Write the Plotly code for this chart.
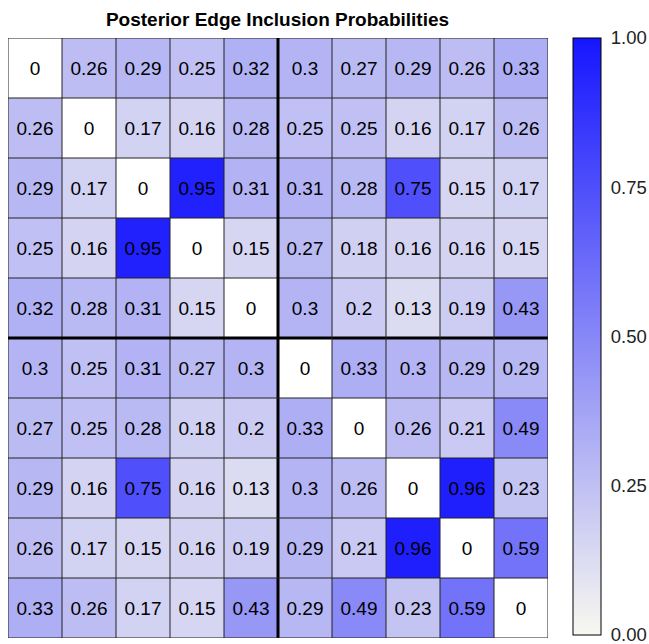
import plotly.graph_objects as go

labels = [str(i) for i in range(1, 11)]
values = [
    [0, 0.26, 0.29, 0.25, 0.32, 0.3, 0.27, 0.29, 0.26, 0.33],
    [0.26, 0, 0.17, 0.16, 0.28, 0.25, 0.25, 0.16, 0.17, 0.26],
    [0.29, 0.17, 0, 0.95, 0.31, 0.31, 0.28, 0.75, 0.15, 0.17],
    [0.25, 0.16, 0.95, 0, 0.15, 0.27, 0.18, 0.16, 0.16, 0.15],
    [0.32, 0.28, 0.31, 0.15, 0, 0.3, 0.2, 0.13, 0.19, 0.43],
    [0.3, 0.25, 0.31, 0.27, 0.3, 0, 0.33, 0.3, 0.29, 0.29],
    [0.27, 0.25, 0.28, 0.18, 0.2, 0.33, 0, 0.26, 0.21, 0.49],
    [0.29, 0.16, 0.75, 0.16, 0.13, 0.3, 0.26, 0, 0.96, 0.23],
    [0.26, 0.17, 0.15, 0.16, 0.19, 0.29, 0.21, 0.96, 0, 0.59],
    [0.33, 0.26, 0.17, 0.15, 0.43, 0.29, 0.49, 0.23, 0.59, 0],
]
cbar_ticks = [0, 0.25, 0.5, 0.75, 1.0]
cbar_ticktext = ["0.00", "0.25", "0.50", "0.75", "1.00"]
split = 5

n = len(labels)
text = [[("%g" % v) for v in row] for row in values]

fig = go.Figure(go.Heatmap(
    z=values,
    x=list(range(n)),
    y=list(range(n)),
    text=text,
    texttemplate="%{text}",
    textfont=dict(family="Liberation Sans, Arial", size=19, color="black"),
    zmin=0, zmax=1,
    colorscale=[[0, "#ffffff"], [0.001, "#f8f8f0"], [1, "#1616ff"]],
    hoverinfo="skip",
    colorbar=dict(
        x=1.046, xanchor="left", xpad=0, y=0.5025, yanchor="middle", len=0.995, ypad=0,
        thickness=28, outlinewidth=1, outlinecolor="black",
        tickvals=cbar_ticks, ticktext=[" " + t for t in cbar_ticktext], ticks="",
        ticklabeloverflow="allow",
        tickfont=dict(family="Liberation Sans, Arial", size=18.5, color="#222"),
    ),
))

shapes = []
for i in range(n + 1):
    w = 3 if i == split else 1
    c = "black" if i == split else "#222"
    shapes.append(dict(type="line", xref="x", yref="y", x0=i - 0.5, x1=i - 0.5,
                       y0=-0.5, y1=n - 0.5, line=dict(color=c, width=w)))
    shapes.append(dict(type="line", xref="x", yref="y", y0=i - 0.5, y1=i - 0.5,
                       x0=-0.5, x1=n - 0.5, line=dict(color=c, width=w)))

fig.update_layout(
    width=649, height=644,
    margin=dict(l=8, r=101, t=38, b=6),
    paper_bgcolor="white", plot_bgcolor="white",
    title=dict(text="<b>Posterior Edge Inclusion Probabilities</b>",
               x=277.5 / 649, xanchor="center", y=1 - 19 / 644, yanchor="middle",
               font=dict(family="Liberation Sans, Arial", size=19, color="black")),
    xaxis=dict(showticklabels=False, showgrid=False, zeroline=False, range=[-0.5, n - 0.5], ticks=""),
    yaxis=dict(showticklabels=False, showgrid=False, zeroline=False, range=[n - 0.5, -0.5], ticks=""),
    shapes=shapes,
)

fig.write_html("out.html", config={"displayModeBar": False},
               post_script="document.body.style.margin='0';document.body.style.overflow='hidden';")
